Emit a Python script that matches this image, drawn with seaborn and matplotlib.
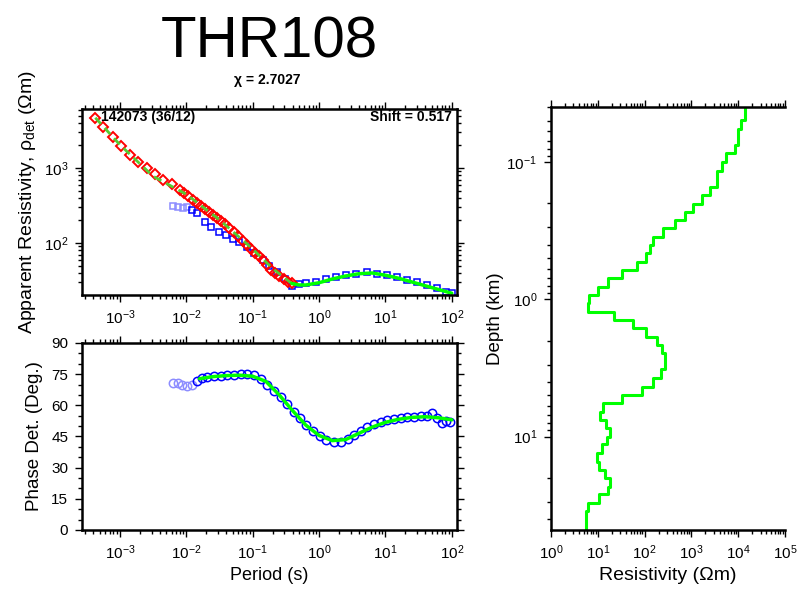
import numpy as np
import pandas as pd
import matplotlib
matplotlib.use("Agg")
import matplotlib.pyplot as plt
import seaborn as sns
from matplotlib.ticker import LogLocator, MultipleLocator, NullFormatter

# station info
station = "THR108"
chi_text = "χ = 2.7027"
site_text = "142073 (36/12)"
shift_text = "Shift = 0.517"

# apparent resistivity, red diamonds (log10 period, log10 rho)
red_logT = [-3.37, -3.25, -3.10, -2.98, -2.85, -2.72, -2.59, -2.47, -2.35, -2.22,
            -2.10, -2.03, -1.97, -1.90, -1.84, -1.78, -1.72, -1.66, -1.60, -1.53,
            -1.47, -1.41, -1.35, -1.28, -1.22, -1.15, -1.09, -1.03, -0.97, -0.91,
            -0.85, -0.78, -0.72, -0.66, -0.60, -0.53, -0.47, -0.41]
red_logrho = [3.67, 3.55, 3.41, 3.29, 3.17, 3.08, 3.00, 2.92, 2.84, 2.78,
              2.71, 2.66, 2.62, 2.57, 2.53, 2.49, 2.45, 2.41, 2.37, 2.33,
              2.29, 2.25, 2.20, 2.15, 2.09, 2.03, 1.97, 1.92, 1.87, 1.82,
              1.77, 1.70, 1.64, 1.60, 1.56, 1.52, 1.48, 1.46]

# apparent resistivity, blue squares (first 4 masked / light)
blue_logT = [-2.20, -2.13, -2.05, -1.99, -1.92, -1.84, -1.72, -1.62, -1.50, -1.40,
             -1.30, -1.20, -1.09, -0.98, -0.85, -0.75, -0.64, -0.52, -0.40, -0.30,
             -0.19, -0.05, 0.11, 0.25, 0.41, 0.55, 0.73, 0.87, 1.02, 1.17,
             1.32, 1.47, 1.62, 1.77, 1.92, 2.00]
blue_logrho = [2.49, 2.48, 2.47, 2.48, 2.44, 2.40, 2.28, 2.21, 2.15, 2.10,
               2.05, 2.01, 1.95, 1.86, 1.77, 1.69, 1.61, 1.52, 1.42, 1.45,
               1.46, 1.48, 1.52, 1.55, 1.57, 1.59, 1.61, 1.59, 1.57, 1.54,
               1.51, 1.48, 1.44, 1.40, 1.35, 1.33]
n_masked_rho = 4

# model response curves
fit_red_logT = [-3.37, -3.0, -2.5, -2.0, -1.5, -1.0, -0.7, -0.41]
fit_red_logrho = [3.67, 3.31, 2.89, 2.65, 2.31, 1.92, 1.66, 1.46]
fit_blue_logT = [-0.41, -0.3, -0.2, 0.0, 0.2, 0.4, 0.6, 0.8, 1.0, 1.2, 1.4, 1.6, 1.8, 2.0]
fit_blue_logrho = [1.46, 1.44, 1.44, 1.47, 1.52, 1.56, 1.59, 1.60, 1.57, 1.53, 1.48, 1.43, 1.38, 1.33]

# phase, blue circles (first 5 masked / light)
phase_logT = [-2.20, -2.13, -2.06, -1.99, -1.92, -1.84, -1.76, -1.68, -1.58, -1.48,
              -1.38, -1.28, -1.18, -1.08, -0.98, -0.88, -0.78, -0.68, -0.58, -0.48,
              -0.38, -0.29, -0.19, -0.09, 0.01, 0.11, 0.23, 0.33, 0.43, 0.53,
              0.63, 0.73, 0.83, 0.93, 1.03, 1.13, 1.23, 1.33, 1.43, 1.53,
              1.63, 1.70, 1.78, 1.85, 1.92, 1.98]
phase_deg = [70.7, 70.5, 69.8, 69.3, 69.8, 71.5, 73.0, 73.8, 74.0, 74.3,
             74.6, 74.8, 75.0, 75.0, 74.4, 72.5, 70.0, 67.0, 64.0, 60.5,
             57.0, 54.0, 50.5, 47.5, 45.0, 43.5, 42.3, 42.5, 44.0, 45.5,
             47.5, 49.5, 51.0, 52.0, 53.0, 53.5, 54.0, 54.5, 54.5, 55.0,
             55.0, 56.5, 54.0, 51.5, 52.5, 52.0]
n_masked_phase = 5
fit_phase_logT = [-1.8, -1.6, -1.4, -1.2, -1.0, -0.8, -0.6, -0.4, -0.2, 0.0,
                  0.2, 0.4, 0.6, 0.8, 1.0, 1.2, 1.4, 1.6, 1.8, 2.0]
fit_phase_deg = [72.8, 73.8, 74.3, 74.5, 74.0, 71.5, 65.0, 57.5, 50.5, 45.5,
                 43.0, 43.5, 46.5, 49.5, 51.8, 53.3, 54.2, 54.5, 54.0, 53.0]

# 1D model: layer bottoms (km) and log10 resistivity of each layer
layer_bottom_km = [0.0495, 0.0575, 0.0752, 0.086, 0.100, 0.116, 0.152, 0.174, 0.202, 0.231,
                   0.264, 0.302, 0.351, 0.401, 0.459, 0.533, 0.610, 0.698, 0.811, 0.927,
                   1.06, 1.23, 1.41, 1.61, 1.87, 2.14, 2.45, 3.20, 3.72, 4.33,
                   4.95, 5.66, 6.58, 7.52, 8.60, 10.0, 11.4, 13.1, 15.2, 17.4,
                   19.9, 23.1, 26.4, 30.2, 35.1]
layer_logrho = [4.145, 4.05, 4.00, 3.93, 3.75, 3.65, 3.55, 3.40, 3.22, 3.04,
                2.86, 2.65, 2.40, 2.19, 2.12, 2.04, 1.84, 1.51, 1.22, 1.01,
                0.82, 0.78, 1.35, 1.75, 2.04, 2.26, 2.38, 2.44, 2.36, 2.19,
                1.94, 1.51, 1.12, 1.05, 1.18, 1.25, 1.19, 1.08, 0.99, 1.03,
                1.15, 1.26, 1.22, 1.03, 0.78, 0.75]

sns.set_style("ticks")
plt.rcParams['font.family'] = ['Liberation Sans', 'DejaVu Sans']
plt.rcParams['mathtext.fontset'] = 'custom'
plt.rcParams['mathtext.rm'] = 'Liberation Sans'
plt.rcParams['mathtext.it'] = 'Liberation Sans:italic'
plt.rcParams['mathtext.bf'] = 'Liberation Sans:bold'
for key in ['text.color', 'axes.labelcolor', 'axes.edgecolor', 'xtick.color', 'ytick.color']:
    plt.rcParams[key] = 'black'

fig = plt.figure(figsize=(7.98, 5.89), dpi=100)
ax_rho = fig.add_axes([0.1028, 0.4992, 0.4700, 0.3158])
ax_ph = fig.add_axes([0.1028, 0.1002, 0.4700, 0.3175])
ax_mod = fig.add_axes([0.6905, 0.1002, 0.2932, 0.7181])

green = "#00ff00"
blue = "#0000ff"
light_blue = "#8c8cff"
red = "#ff0000"

# ---- apparent resistivity ----
ax_rho.set_xscale("log")
ax_rho.set_yscale("log")
red_df = pd.DataFrame({"T": 10 ** np.array(red_logT), "rho": 10 ** np.array(red_logrho)})
blue_df = pd.DataFrame({"T": 10 ** np.array(blue_logT), "rho": 10 ** np.array(blue_logrho)})
sns.lineplot(data=blue_df.iloc[:n_masked_rho], x="T", y="rho", ax=ax_rho, estimator=None,
             linestyle="", marker="s", markersize=4.5, markerfacecolor="none",
             markeredgecolor=light_blue, markeredgewidth=1.1)
sns.lineplot(data=blue_df.iloc[n_masked_rho:], x="T", y="rho", ax=ax_rho, estimator=None,
             linestyle="", marker="s", markersize=4.5, markerfacecolor="none",
             markeredgecolor=blue, markeredgewidth=1.1)
sns.lineplot(data=red_df, x="T", y="rho", ax=ax_rho, estimator=None,
             linestyle="", marker="D", markersize=5.5, markerfacecolor="none",
             markeredgecolor=red, markeredgewidth=1.4)
sns.lineplot(x=10 ** np.array(fit_red_logT), y=10 ** np.array(fit_red_logrho), ax=ax_rho,
             estimator=None, color="#55cc33", linewidth=2.0, linestyle=(0, (3, 2)))
sns.lineplot(x=10 ** np.array(fit_blue_logT), y=10 ** np.array(fit_blue_logrho), ax=ax_rho,
             estimator=None, color=green, linewidth=2.5)
ax_rho.set_xlim(10 ** -3.57, 10 ** 2.08)
ax_rho.set_ylim(10 ** 1.307, 10 ** 3.787)
ax_rho.set_xlabel("")
ax_rho.set_ylabel(r"Apparent Resistivity, ρ$_{\mathrm{det}}$ (Ωm)", fontsize=14, labelpad=4)
ax_rho.text(0.05, 0.955, site_text, transform=ax_rho.transAxes, fontsize=10,
            fontweight="bold", ha="left", va="center")
ax_rho.text(0.985, 0.955, shift_text, transform=ax_rho.transAxes, fontsize=10,
            fontweight="bold", ha="right", va="center")

# ---- phase ----
ax_ph.set_xscale("log")
ph_df = pd.DataFrame({"T": 10 ** np.array(phase_logT), "phase": phase_deg})
sns.lineplot(data=ph_df.iloc[:n_masked_phase], x="T", y="phase", ax=ax_ph, estimator=None,
             linestyle="", marker="o", markersize=6, markerfacecolor="none",
             markeredgecolor=light_blue, markeredgewidth=1.1)
sns.lineplot(data=ph_df.iloc[n_masked_phase:], x="T", y="phase", ax=ax_ph, estimator=None,
             linestyle="", marker="o", markersize=6, markerfacecolor="none",
             markeredgecolor=blue, markeredgewidth=1.1)
sns.lineplot(x=10 ** np.array(fit_phase_logT), y=fit_phase_deg, ax=ax_ph,
             estimator=None, color=green, linewidth=2.5)
ax_ph.set_xlim(10 ** -3.57, 10 ** 2.08)
ax_ph.set_ylim(0, 90)
ax_ph.yaxis.set_major_locator(MultipleLocator(15))
ax_ph.yaxis.set_minor_locator(MultipleLocator(5))
ax_ph.set_xlabel("Period (s)", fontsize=13, labelpad=3)
ax_ph.set_ylabel("Phase Det. (Deg.)", fontsize=13.5, labelpad=6)

# ---- 1D model staircase ----
tops = [0.03] + layer_bottom_km
bottoms = layer_bottom_km + [60.0]
stair_x, stair_y = [], []
for lr, t, b in zip(layer_logrho, tops, bottoms):
    stair_x += [10 ** lr, 10 ** lr]
    stair_y += [t, b]
model_df = pd.DataFrame({"rho": stair_x, "depth": stair_y})
ax_mod.set_xscale("log")
ax_mod.set_yscale("log")
sns.lineplot(data=model_df, x="rho", y="depth", ax=ax_mod, sort=False, estimator=None,
             color=green, linewidth=2.2)
ax_mod.set_xlim(1, 1e5)
ax_mod.set_ylim(10 ** 1.68, 10 ** -1.40)
ax_mod.set_xlabel("Resistivity (Ωm)", fontsize=14, labelpad=3)
ax_mod.set_ylabel("Depth (km)", fontsize=13.5, labelpad=2)
ax_mod.spines["right"].set_visible(False)

for ax in (ax_rho, ax_ph, ax_mod):
    for s in ax.spines.values():
        s.set_linewidth(1.8)
    ax.tick_params(which="both", direction="out", top=True, right=(ax is not ax_mod),
                   labelsize=11, width=1.0)
    ax.tick_params(which="major", length=5, pad=5)
    ax.tick_params(which="minor", length=3)
    ax.xaxis.set_minor_locator(LogLocator(base=10, subs=np.arange(2, 10), numticks=20))
    ax.xaxis.set_minor_formatter(NullFormatter())
for ax in (ax_rho, ax_mod):
    ax.yaxis.set_minor_locator(LogLocator(base=10, subs=np.arange(2, 10), numticks=20))
    ax.yaxis.set_minor_formatter(NullFormatter())
ax_mod.xaxis.set_major_locator(LogLocator(base=10, numticks=10))
ax_mod.yaxis.set_major_locator(LogLocator(base=10, numticks=10))

fig.text(0.337, 0.928, station, fontsize=42, ha="center", va="center")
fig.text(0.335, 0.864, chi_text, fontsize=10, fontweight="bold", ha="center", va="center")

fig.savefig("out.png", dpi=100)
